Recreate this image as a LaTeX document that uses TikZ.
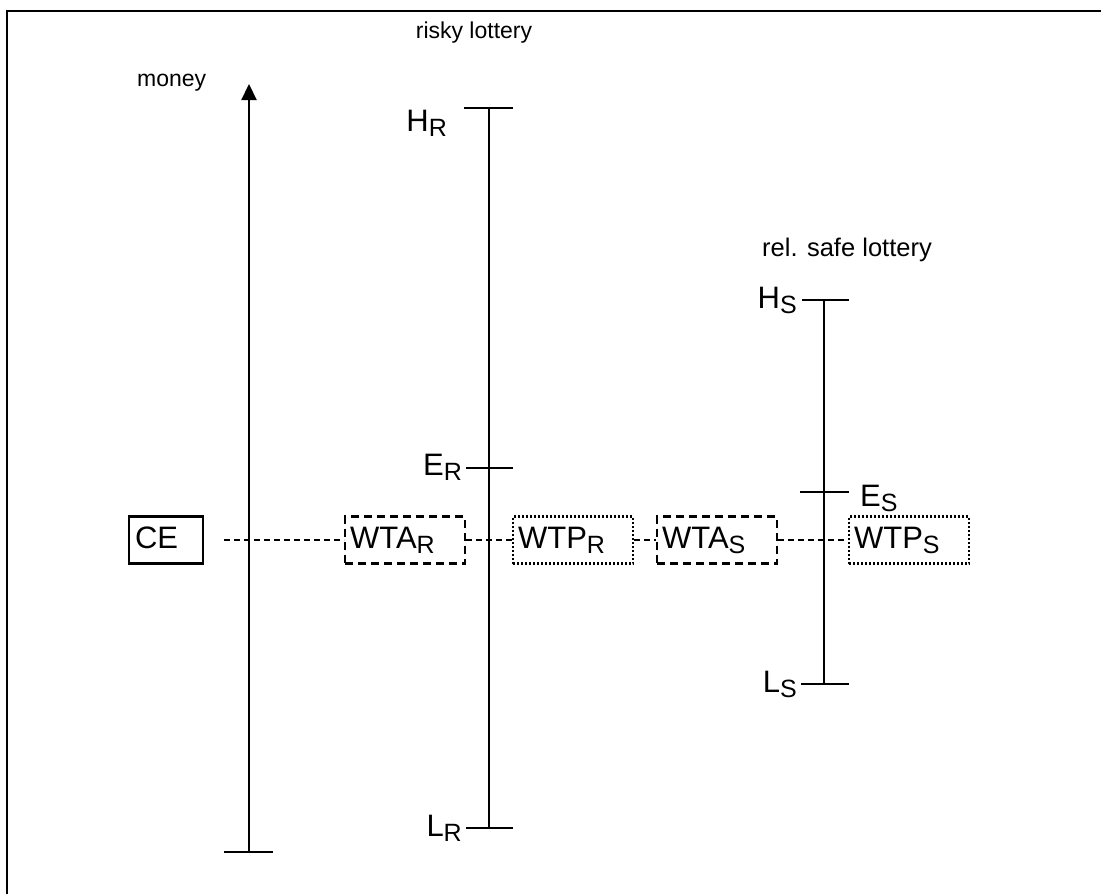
\documentclass[tikz,border=0pt]{standalone}
\usepackage{fontspec}
\setmainfont{Liberation Sans}
\usetikzlibrary{arrows.meta}
\newcommand\sbx[1]{\raisebox{-5pt}{\fontsize{25}{25}\selectfont #1}}
\begin{document}
\begin{tikzpicture}[x=1pt,y=-1pt,
  axisline/.style={line width=2.2pt},
  biglabel/.style={inner sep=0pt,font=\fontsize{31}{31}\selectfont},
  smalllabel/.style={inner sep=0pt,font=\fontsize{23}{23}\selectfont},
  boxbase/.style={line width=2.2pt,minimum height=47pt,inner ysep=0pt,inner xsep=5pt,
    text width=110pt,align=left,anchor=west,font=\fontsize{31}{31}\selectfont},
  dashbox/.style={boxbase,draw,dash pattern=on 8pt off 5pt},
  dotbox/.style={boxbase,draw,dash pattern=on 2pt off 2pt},
  solidbox/.style={boxbase,draw,dash pattern=,text width=62pt,inner xsep=6pt},
  link/.style={line width=1.6pt,dash pattern=on 6pt off 4pt}]
\useasboundingbox (0,0) rectangle (1101,894);
% frame
\draw[line width=2.4pt] (7,894) -- (7,11) -- (1101,11);

% money axis
\coordinate (mbot) at (249,852);
\coordinate (mtop) at (249,84);
\draw[axisline,-{Triangle[width=15pt,length=16pt]}] (mbot) -- (mtop);
\draw[axisline] ([xshift=-25pt]mbot) -- ([xshift=24pt]mbot);
\node[smalllabel,anchor=base west] (money) at (137,86) {money};

% risky lottery
\coordinate (hr) at (489,108);
\coordinate (er) at (489,468);
\coordinate (lr) at (489,828);
\draw[axisline] (hr) -- (lr);
\draw[axisline] ([xshift=-25pt]hr) -- ([xshift=24pt]hr);
\draw[axisline] ([xshift=-23pt]er) -- ([xshift=24pt]er);
\draw[axisline] ([xshift=-23pt]lr) -- ([xshift=24pt]lr);
\node[smalllabel,anchor=base] (risky) at (474,38) {risky lottery};
\node[biglabel,anchor=base east] (hrl) at (447,131) {H\sbx{R}};
\node[biglabel,anchor=base east] (erl) at (462,475) {E\sbx{R}};
\node[biglabel,anchor=base east] (lrl) at (462,836) {L\sbx{R}};

% safe lottery
\coordinate (hs) at (824,300);
\coordinate (es) at (824,492);
\coordinate (ls) at (824,684);
\draw[axisline] (hs) -- (ls);
\draw[axisline] ([xshift=-22pt]hs) -- ([xshift=25pt]hs);
\draw[axisline] ([xshift=-24pt]es) -- ([xshift=25pt]es);
\draw[axisline] ([xshift=-23pt]ls) -- ([xshift=25pt]ls);
\node[smalllabel,anchor=base west,font=\fontsize{25.5}{25.5}\selectfont] (safe) at (762,256) {rel. safe lottery};
\node[biglabel,anchor=base east] (hsl) at (797,308) {H\sbx{S}};
\node[biglabel,anchor=base west] (esl) at (860,506) {E\sbx{S}};
\node[biglabel,anchor=base east] (lsl) at (797,692) {L\sbx{S}};

% boxes
\node[solidbox] (ce) at (128,540) {CE\vphantom{\sbx{R}}};
\node[dashbox] (wtar) at (344,540) {WTA\sbx{R}};
\node[dotbox] (wtpr) at (512,540) {WTP\sbx{R}};
\node[dashbox] (wtas) at (656,540) {WTA\sbx{S}};
\node[dotbox] (wtps) at (848,540) {WTP\sbx{S}};

% dashed links
\coordinate (lstart) at (224,540);
\draw[link] (lstart) -- (wtar.west);
\draw[link] (wtar.east) -- (wtpr.west);
\draw[link] (wtpr.east) -- (wtas.west);
\draw[link] (wtas.east) -- (wtps.west);
\end{tikzpicture}
\end{document}
